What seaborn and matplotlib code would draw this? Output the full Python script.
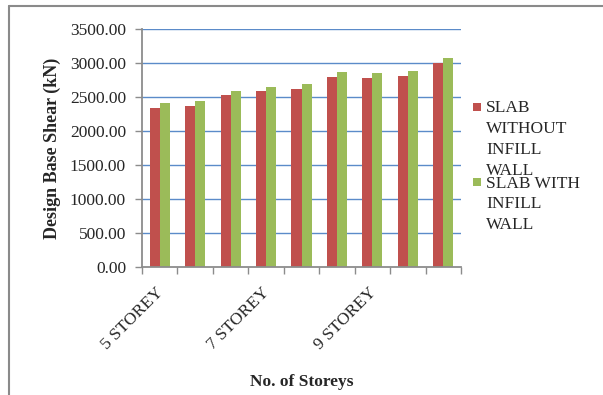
import matplotlib
matplotlib.use("Agg")
import matplotlib.pyplot as plt
import matplotlib.transforms as mtransforms
from matplotlib.lines import Line2D
from matplotlib.patches import Rectangle
import seaborn as sns
import pandas as pd
import numpy as np

# Design base shear per building case
cases = ["5 STOREY", "", "", "7 STOREY", "", "", "9 STOREY", "", ""]
without_infill = [2335, 2362, 2530, 2590, 2615, 2797, 2783, 2812, 3000]
with_infill = [2412, 2437, 2590, 2653, 2693, 2871, 2856, 2886, 3078]
series_names = ["SLAB\nWITHOUT\nINFILL\nWALL", "SLAB WITH\nINFILL\nWALL"]
y_ticks = [0, 500, 1000, 1500, 2000, 2500, 3000, 3500]

RED = "#C0504D"
GREEN = "#9BBB59"
GRID = "#5B8BC9"
AXIS = "#8C8C8C"

df = pd.DataFrame({
    "case": list(range(len(cases))) * 2,
    "shear": without_infill + with_infill,
    "series": [series_names[0]] * len(cases) + [series_names[1]] * len(cases),
})

sns.set_style("white")
plt.rcParams["font.family"] = ["Liberation Serif", "DejaVu Serif"]

W, H = 603, 395
fig = plt.figure(figsize=(W / 100, H / 100), dpi=100)
ax = fig.add_axes([142 / W, 1 - 267 / H, (461 - 142) / W, (267 - 29) / H])

sns.barplot(data=df, x="case", y="shear", hue="series", order=list(range(len(cases))),
            palette=[RED, GREEN], width=0.565, saturation=1, ax=ax, legend=False,
            edgecolor="none", errorbar=None)

ax.set_xlim(-0.5, len(cases) - 0.5)
ax.set_ylim(0, 3500)
ax.set_yticks(y_ticks)
ax.set_yticklabels([f"{v:.2f}" for v in y_ticks], fontsize=12.5)
for v in y_ticks[1:]:
    ax.axhline(v, color=GRID, lw=1.0, zorder=0)
ax.set_axisbelow(True)

for side in ["top", "right"]:
    ax.spines[side].set_visible(False)
for side in ["left", "bottom"]:
    ax.spines[side].set_color(AXIS)
    ax.spines[side].set_linewidth(1.3)

ax.tick_params(axis="y", length=5, width=1, color=AXIS, pad=6.5, direction="out", left=True)

# category boundaries carry the tick marks, labels sit at the centres
ax.set_xticks(np.arange(-0.5, len(cases), 1.0), minor=True)
ax.tick_params(axis="x", which="minor", length=5, width=1, color=AXIS, direction="out", bottom=True)
ax.set_xticks(range(len(cases)))
ax.set_xticklabels(cases, fontsize=12.5, rotation=45, ha="right", va="center",
                   rotation_mode="anchor")
ax.tick_params(axis="x", which="major", length=0, pad=17)
shift = mtransforms.ScaledTranslation(1.5 / 100, 0, fig.dpi_scale_trans)
for lab in ax.get_xticklabels():
    lab.set_transform(lab.get_transform() + shift)

ax.set_xlabel("")
ax.set_ylabel("")
fig.text(52 / W, 1 - 148 / H, "Design Base Shear (kN)", rotation=90, fontsize=13,
         fontweight="bold", ha="center", va="center")
fig.text(302 / W, 1 - 382 / H, "No. of Storeys", fontsize=12.5, fontweight="bold",
         ha="center", va="center")

# legend: square swatch beside the first line of each wrapped label
line_h = 20.7
for name, color, y0 in [(series_names[0], RED, 107), (series_names[1], GREEN, 182)]:
    fig.patches.append(Rectangle((473 / W, 1 - (y0 + 4) / H), 8 / W, 8 / H,
                                 transform=fig.transFigure, facecolor=color,
                                 edgecolor="none"))
    for i, line in enumerate(name.split("\n")):
        fig.text(486 / W, 1 - (y0 + 1.5 + i * line_h) / H, line, fontsize=12.5,
                 ha="left", va="center")

# chart frame
fig.add_artist(Line2D([8.5 / W, 1.0], [1 - 6 / H, 1 - 6 / H], transform=fig.transFigure,
                      color="#8A8A8A", lw=1.5))
fig.add_artist(Line2D([8.5 / W, 8.5 / W], [0, 1 - 6 / H], transform=fig.transFigure,
                      color="#8A8A8A", lw=1.5))

fig.savefig("out.png", dpi=100)
